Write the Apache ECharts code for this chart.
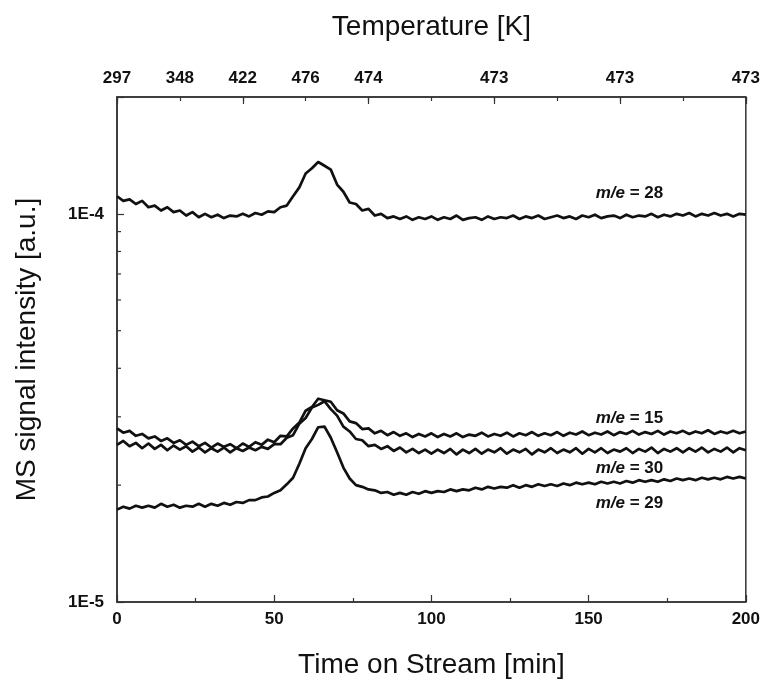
<!DOCTYPE html>
<html>
<head>
<meta charset="utf-8">
<script src="https://cdn.jsdelivr.net/npm/echarts@6/dist/echarts.min.js"></script>
<style>
html,body{margin:0;padding:0;background:#fff;}
#c{width:763px;height:684px;}
</style>
</head>
<body>
<div id="c"></div>
<script>
// Time on stream [min]
const times = [0,2,4,6,8,10,12,14,16,18,20,22,24,26,28,30,32,34,36,38,40,42,44,46,48,50,52,54,56,58,60,62,64,66,68,70,72,74,76,78,80,82,84,86,88,90,92,94,96,98,100,102,104,106,108,110,112,114,116,118,120,122,124,126,128,130,132,134,136,138,140,142,144,146,148,150,152,154,156,158,160,162,164,166,168,170,172,174,176,178,180,182,184,186,188,190,192,194,196,198,200];

// MS signal intensity [a.u.]
const me28 = [1.11e-4,1.08e-4,1.09e-4,1.06e-4,1.08e-4,1.04e-4,1.05e-4,1.02e-4,1.04e-4,1.01e-4,1.02e-4,0.99e-4,1.01e-4,0.98e-4,1.00e-4,0.98e-4,0.995e-4,0.975e-4,0.99e-4,0.985e-4,1.00e-4,0.985e-4,1.005e-4,0.995e-4,1.015e-4,1.01e-4,1.04e-4,1.05e-4,1.11e-4,1.17e-4,1.27e-4,1.31e-4,1.36e-4,1.33e-4,1.30e-4,1.19e-4,1.14e-4,1.07e-4,1.06e-4,1.02e-4,1.03e-4,0.99e-4,1.00e-4,0.975e-4,0.985e-4,0.97e-4,0.985e-4,0.965e-4,0.98e-4,0.97e-4,0.985e-4,0.965e-4,0.98e-4,0.97e-4,0.99e-4,0.965e-4,0.975e-4,0.98e-4,0.965e-4,0.985e-4,0.97e-4,0.98e-4,0.975e-4,0.99e-4,0.97e-4,0.985e-4,0.975e-4,0.99e-4,0.97e-4,0.98e-4,0.99e-4,0.975e-4,0.985e-4,0.97e-4,0.99e-4,0.98e-4,0.995e-4,0.975e-4,0.985e-4,0.99e-4,0.975e-4,0.995e-4,0.98e-4,0.99e-4,0.985e-4,1.0e-4,0.98e-4,0.995e-4,0.985e-4,1.0e-4,0.99e-4,1.005e-4,0.985e-4,1.0e-4,0.99e-4,1.005e-4,0.99e-4,1.0e-4,0.985e-4,1.0e-4,0.995e-4];

const me15 = [2.80e-5,2.73e-5,2.76e-5,2.68e-5,2.71e-5,2.64e-5,2.67e-5,2.60e-5,2.64e-5,2.57e-5,2.61e-5,2.54e-5,2.59e-5,2.52e-5,2.57e-5,2.50e-5,2.56e-5,2.51e-5,2.55e-5,2.49e-5,2.56e-5,2.51e-5,2.58e-5,2.54e-5,2.62e-5,2.58e-5,2.68e-5,2.67e-5,2.80e-5,2.90e-5,3.11e-5,3.18e-5,3.34e-5,3.31e-5,3.28e-5,3.12e-5,3.06e-5,2.92e-5,2.89e-5,2.79e-5,2.80e-5,2.72e-5,2.76e-5,2.69e-5,2.74e-5,2.68e-5,2.72e-5,2.66e-5,2.71e-5,2.67e-5,2.72e-5,2.66e-5,2.71e-5,2.67e-5,2.72e-5,2.66e-5,2.70e-5,2.68e-5,2.73e-5,2.67e-5,2.71e-5,2.68e-5,2.73e-5,2.67e-5,2.72e-5,2.69e-5,2.74e-5,2.68e-5,2.72e-5,2.69e-5,2.74e-5,2.68e-5,2.73e-5,2.70e-5,2.75e-5,2.69e-5,2.73e-5,2.70e-5,2.75e-5,2.69e-5,2.74e-5,2.71e-5,2.76e-5,2.70e-5,2.74e-5,2.71e-5,2.76e-5,2.70e-5,2.75e-5,2.72e-5,2.76e-5,2.71e-5,2.75e-5,2.72e-5,2.77e-5,2.71e-5,2.75e-5,2.72e-5,2.76e-5,2.72e-5,2.75e-5];

const me30 = [2.54e-5,2.60e-5,2.52e-5,2.57e-5,2.49e-5,2.56e-5,2.48e-5,2.54e-5,2.46e-5,2.53e-5,2.47e-5,2.52e-5,2.44e-5,2.50e-5,2.43e-5,2.49e-5,2.44e-5,2.50e-5,2.43e-5,2.49e-5,2.45e-5,2.50e-5,2.46e-5,2.51e-5,2.48e-5,2.55e-5,2.55e-5,2.65e-5,2.69e-5,2.88e-5,2.98e-5,3.17e-5,3.22e-5,3.29e-5,3.14e-5,3.02e-5,2.83e-5,2.75e-5,2.63e-5,2.61e-5,2.52e-5,2.54e-5,2.48e-5,2.52e-5,2.45e-5,2.50e-5,2.43e-5,2.48e-5,2.42e-5,2.47e-5,2.41e-5,2.47e-5,2.42e-5,2.48e-5,2.40e-5,2.47e-5,2.42e-5,2.48e-5,2.41e-5,2.47e-5,2.43e-5,2.49e-5,2.41e-5,2.47e-5,2.43e-5,2.48e-5,2.40e-5,2.47e-5,2.43e-5,2.49e-5,2.42e-5,2.47e-5,2.43e-5,2.49e-5,2.41e-5,2.48e-5,2.43e-5,2.49e-5,2.42e-5,2.47e-5,2.44e-5,2.49e-5,2.42e-5,2.48e-5,2.44e-5,2.50e-5,2.42e-5,2.48e-5,2.44e-5,2.49e-5,2.43e-5,2.49e-5,2.44e-5,2.50e-5,2.43e-5,2.48e-5,2.44e-5,2.50e-5,2.43e-5,2.49e-5,2.46e-5];

const me29 = [1.73e-5,1.76e-5,1.74e-5,1.77e-5,1.75e-5,1.77e-5,1.75e-5,1.79e-5,1.76e-5,1.78e-5,1.75e-5,1.77e-5,1.76e-5,1.79e-5,1.76e-5,1.79e-5,1.77e-5,1.80e-5,1.78e-5,1.81e-5,1.80e-5,1.83e-5,1.83e-5,1.86e-5,1.87e-5,1.91e-5,1.94e-5,2.01e-5,2.09e-5,2.27e-5,2.49e-5,2.63e-5,2.82e-5,2.83e-5,2.65e-5,2.43e-5,2.22e-5,2.08e-5,2.00e-5,1.98e-5,1.95e-5,1.94e-5,1.91e-5,1.92e-5,1.89e-5,1.91e-5,1.89e-5,1.92e-5,1.90e-5,1.93e-5,1.91e-5,1.93e-5,1.92e-5,1.95e-5,1.93e-5,1.95e-5,1.94e-5,1.97e-5,1.95e-5,1.98e-5,1.96e-5,1.98e-5,1.97e-5,2.00e-5,1.97e-5,2.00e-5,1.98e-5,2.01e-5,1.99e-5,2.01e-5,1.99e-5,2.02e-5,2.00e-5,2.03e-5,2.01e-5,2.03e-5,2.01e-5,2.04e-5,2.02e-5,2.04e-5,2.02e-5,2.05e-5,2.03e-5,2.06e-5,2.04e-5,2.06e-5,2.04e-5,2.07e-5,2.05e-5,2.08e-5,2.06e-5,2.08e-5,2.06e-5,2.09e-5,2.07e-5,2.09e-5,2.07e-5,2.10e-5,2.08e-5,2.10e-5,2.08e-5];

// Top axis: temperature labels at given times
const tempTickTimes = [0,20,40,60,80,120,160,200];
const tempTickLabels = ['297','348','422','476','474','473','473','473'];

// Left axis minor ticks (log)
const yMinorTicks = [2e-5,3e-5,4e-5,5e-5,6e-5,7e-5,8e-5,9e-5];

const FONT = "'Liberation Sans', Arial, Helvetica, sans-serif";
const INK = '#111';

function pairs(arr){ return times.map((t,i)=>[t, arr[i]]); }

const chart = echarts.init(document.getElementById('c'), null, {renderer:'canvas'});

const tickLabelStyle = {fontFamily: FONT, fontWeight: 'bold', fontSize: 17, color: INK};
const nameStyle = {fontFamily: FONT, fontSize: 28, color: INK};

function labelPoint(name, t, v){
  return {
    symbol: 'circle', symbolSize: 0, silent: true, animation: false,
    data: [{coord: [t, v], value: name}],
    label: {
      show: true, position: 'inside',
      formatter: '{i|m/e} = ' + name,
      fontFamily: FONT, fontWeight: 'bold', fontSize: 17, color: INK,
      rich: {i: {fontFamily: FONT, fontStyle: 'italic', fontWeight: 'bold', fontSize: 17, color: INK}}
    }
  };
}

function lineSeries(name, arr, labelT, labelV){
  return {
    type: 'line', name: 'm/e = ' + name, xAxisIndex: 0, yAxisIndex: 0,
    data: pairs(arr), showSymbol: false, symbol: 'none',
    lineStyle: {color: INK, width: 2.7, join: 'round'},
    animation: false, silent: true,
    markPoint: labelPoint(name, labelT, labelV)
  };
}

const option = {
  animation: false,
  backgroundColor: '#fff',
  grid: {left: 117, right: 17, top: 97, bottom: 82, show: true, borderColor: '#333', borderWidth: 1.5, backgroundColor: 'transparent'},
  xAxis: [
    {
      type: 'value', position: 'bottom', min: 0, max: 200, interval: 50,
      name: 'Time on Stream [min]', nameLocation: 'middle', nameGap: 49, nameTextStyle: nameStyle,
      axisLine: {show: true, lineStyle: {color: '#333', width: 1.5}},
      axisTick: {show: true, inside: true, length: 7, lineStyle: {color: '#333', width: 1.2}},
      minorTick: {show: true, splitNumber: 2, length: 4, lineStyle: {color: '#333', width: 1.2}},
      axisLabel: Object.assign({margin: 9}, tickLabelStyle),
      splitLine: {show: false}, minorSplitLine: {show: false}
    },
    {
      type: 'value', position: 'top', min: 0, max: 200, interval: 20,
      name: 'Temperature [K]', nameLocation: 'middle', nameGap: 56, nameTextStyle: nameStyle,
      axisLine: {show: true, lineStyle: {color: '#333', width: 1.5}},
      axisTick: {show: true, inside: true, length: 4, lineStyle: {color: '#333', width: 1.2}},
      axisLabel: Object.assign({
        margin: 10,
        formatter: function(v){
          const idx = tempTickTimes.indexOf(Math.round(v));
          return idx >= 0 ? tempTickLabels[idx] : '';
        }
      }, tickLabelStyle),
      splitLine: {show: false}
    },
    {
      type: 'value', position: 'top', min: 0, max: 200, interval: 40,
      axisLine: {show: false},
      axisTick: {show: true, inside: true, length: 7, lineStyle: {color: '#333', width: 1.2}},
      axisLabel: {show: false},
      splitLine: {show: false}
    }
  ],
  yAxis: [
    {
      type: 'log', logBase: 10, min: 1e-5, max: 2e-4,
      name: 'MS signal intensity [a.u.]', nameLocation: 'middle', nameGap: 76, nameTextStyle: nameStyle,
      axisLine: {show: true, lineStyle: {color: '#333', width: 1.5}},
      axisTick: {show: true, inside: true, length: 7, lineStyle: {color: '#333', width: 1.2}},
      axisLabel: Object.assign({
        margin: 13,
        formatter: function(v){
          const e = Math.log10(v);
          if (Math.abs(e - Math.round(e)) < 1e-6) return '1E' + Math.round(e);
          return '';
        }
      }, tickLabelStyle),
      splitLine: {show: false}
    }
  ],
  series: [
    lineSeries('28', me28, 163, 1.13e-4),
    lineSeries('15', me15, 163, 2.97e-5),
    lineSeries('30', me30, 163, 2.21e-5),
    lineSeries('29', me29, 163, 1.80e-5),
    {
      type: 'custom', name: 'minorTicks', xAxisIndex: 0, yAxisIndex: 0,
      data: yMinorTicks.map(v => [0, v]),
      silent: true, clip: false, animation: false,
      renderItem: function(params, api){
        const p = api.coord([api.value(0), api.value(1)]);
        return {type: 'line', shape: {x1: p[0], y1: p[1], x2: p[0] + 4, y2: p[1]}, style: {stroke: '#333', lineWidth: 1.2}};
      }
    }
  ]
};
chart.setOption(option);
</script>
</body>
</html>
